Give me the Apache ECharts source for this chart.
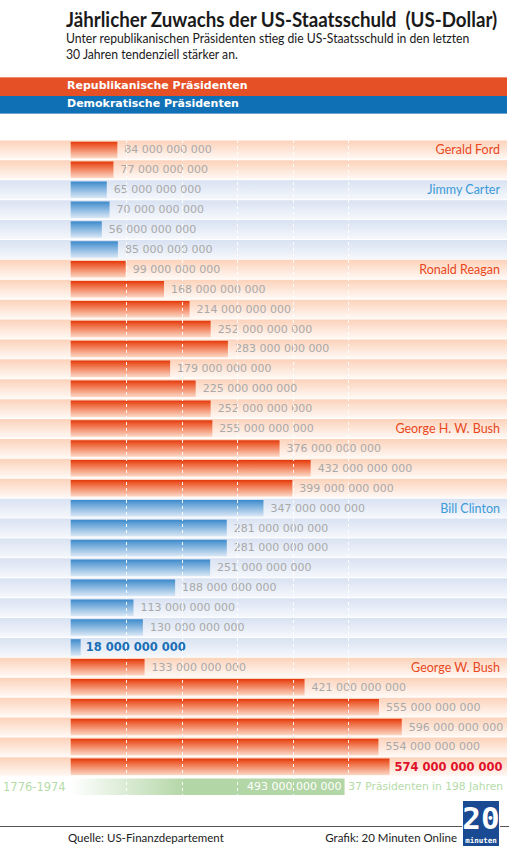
<!DOCTYPE html>
<html><head><meta charset="utf-8">
<script src="https://cdn.jsdelivr.net/npm/echarts@6/dist/echarts.min.js"></script>
<style>html,body{margin:0;padding:0;background:#fff}#c{width:509px;height:850px}</style>
</head><body><div id="c"></div>
<script>
// ---- data ----
const years = ['1975','76','77','78','79','80','81','82','83','84','85','86','87','88','89','90','91','92','93','94','95','96','97','98','99','2000','01','02','03','04','05','06','1776-1974'];
const growthBn = [84,77,65,70,56,85,99,168,214,252,283,179,225,252,255,376,432,399,347,281,281,251,188,113,130,18,133,421,555,596,554,574,493];
const party = ['R','R','D','D','D','D','R','R','R','R','R','R','R','R','R','R','R','R','D','D','D','D','D','D','D','D','R','R','R','R','R','R','H'];
const rowNotes = ['Gerald Ford','','Jimmy Carter','','','','Ronald Reagan','','','','','','','','George H. W. Bush','','','','Bill Clinton','','','','','','','','George W. Bush','','','','','','37 Präsidenten in 198 Jahren'];
const gridTicks = [100,200,300,400,500];
const titleText = 'Jährlicher Zuwachs der US-Staatsschuld  (US-Dollar)';
const subLines = ['Unter republikanischen Präsidenten stieg die US-Staatsschuld in den letzten', '30 Jahren tendenziell stärker an.'];

const LG = echarts.graphic.LinearGradient;
const C = {
  R: {band:['#fcd2ba','#fff9f5'], bar:[['0','#e1370c'],['0.18','#ec5a2c'],['1','#fcd8c6']], note:'#e8481c'},
  D: {band:['#d9e2f2','#f5f8fc'], bar:[['0','#3a88ca'],['0.18','#5a9cd4'],['1','#d9e7f5']], note:'#3b9ad7'},
  H: {note:'#b5dba8'}
};
const fmt = v => v + ' 000 000 000';
const humanist = "Lato, 'Open Sans', sans-serif";
const vera = "'DejaVu Sans', Verdana, sans-serif";

// horizontal condensing so the Lato text takes the width of the original condensed face
const ctx = document.createElement('canvas').getContext('2d');
function fitScale(text, font, target){ ctx.font = font; return target / ctx.measureText(text).width; }
const titleFont = "bold 20px Lato, 'Open Sans', sans-serif";
const subFont = "12.5px Lato, 'Open Sans', sans-serif";
const sTitle = fitScale(titleText, titleFont, 432);
const sSub = fitScale(subLines[0], subFont, 404);

const bandData = years.map((y,i)=>{
  const p = party[i];
  return {
    value: 1,
    itemStyle: p==='H' ? {color:'rgba(0,0,0,0)'} : {color: new LG(0,0,0,1,[{offset:0,color:C[p].band[0]},{offset:1,color:C[p].band[1]}])}
  };
});
const noteData = years.map((y,i)=>{
  const p = party[i];
  return {
    value: 1,
    label: p==='H' ? {color: C[p].note, fontFamily: vera, fontSize: 10.7, distance: 4} : {color: C[p].note}
  };
});
const barData = growthBn.map((v,i)=>{
  const p = party[i];
  const d = {value: v};
  if (p==='H') {
    d.itemStyle = {color: new LG(0,0,1,0,[{offset:0,color:'rgba(179,214,166,0)'},{offset:0.42,color:'#b3d6a6'},{offset:1,color:'#b3d6a6'}])};
    d.label = {position:'insideRight', distance:3, color:'#ffffff'};
  } else {
    d.itemStyle = {color: new LG(0,0,0,1, C[p].bar.map(s=>({offset:+s[0],color:s[1]})))};
  }
  return d;
});
// emphasised labels
barData[25].label = {color:'#1a6fb5', fontWeight:'bold', fontSize:11.5, distance:5};
barData[31].label = {color:'#e0102a', fontWeight:'bold', fontSize:11.5, distance:5};

const gridTop = 140, rowH = 19.9, nRows = years.length;
const chart = echarts.init(document.getElementById('c'), null, {renderer:'svg'});
chart.setOption({
  animation:false,
  backgroundColor:'#fff',
  title:[
    {text:'Quelle: US-Finanzdepartement', left:68, top:831, padding:0, textStyle:{fontFamily:humanist, fontSize:11.5, fontWeight:'normal', color:'#222'}},
    {text:'Grafik: 20 Minuten Online', right:52, top:831, padding:0, textStyle:{fontFamily:humanist, fontSize:11.5, fontWeight:'normal', color:'#222'}}
  ],
  grid:[
    {left:0, right:2, top:gridTop, height:rowH*nRows},
    {left:68, right:5, top:gridTop, height:rowH*nRows}
  ],
  xAxis:[
    {gridIndex:0, type:'value', min:0, max:1, show:false},
    {gridIndex:1, type:'value', min:0, max:780, show:false}
  ],
  yAxis:[
    {gridIndex:0, type:'category', data:years, inverse:true, show:false},
    {gridIndex:1, type:'category', data:years, inverse:true,
     axisLine:{show:false}, axisTick:{show:false}, splitLine:{show:false},
     axisLabel:{margin:5, fontFamily:vera, fontSize:11.5, color:(v)=> v==='1776-1974' ? '#b5dba8' : '#1a1a1a'}}
  ],
  series:[
    {type:'bar', xAxisIndex:0, yAxisIndex:0, data:bandData, barWidth:19, silent:true, z:1, barGap:'-100%'},
    {type:'bar', xAxisIndex:1, yAxisIndex:1, data:barData, barWidth:16.5, silent:true, z:3,
     label:{show:true, position:'right', distance:7, fontFamily:vera, fontSize:11, color:'#a9a9a9',
            formatter:(p)=>fmt(p.value)},
     markLine:{silent:true, symbol:['none','none'], label:{show:false}, z:5,
               lineStyle:{color:'#ffffff', type:[3,3], width:1, opacity:0.95},
               data: gridTicks.map(v=>({xAxis:v}))}},
    {type:'bar', xAxisIndex:0, yAxisIndex:0, data:noteData, barWidth:19, silent:true, z:6, barGap:'-100%',
     itemStyle:{color:'rgba(0,0,0,0)'},
     label:{show:true, position:'insideRight', distance:7, fontFamily:humanist, fontSize:12.5,
            formatter:(p)=>rowNotes[p.dataIndex]}}
  ],
  graphic:[
    {type:'text', x:66, y:19, scaleX:sTitle, style:{text:titleText, fill:'#1a1a1a', font:titleFont, verticalAlign:'middle'}},
    {type:'text', x:66, y:38, scaleX:sSub, style:{text:subLines[0], fill:'#1a1a1a', font:subFont, verticalAlign:'middle'}},
    {type:'text', x:66, y:54, scaleX:sSub, style:{text:subLines[1], fill:'#1a1a1a', font:subFont, verticalAlign:'middle'}},
    {type:'rect', left:0, top:77, shape:{width:507, height:19}, style:{fill:'#e55026'}},
    {type:'rect', left:0, top:96, shape:{width:507, height:18}, style:{fill:'#1070b5'}},
    {type:'line', shape:{x1:0,y1:77.5,x2:507,y2:77.5}, style:{stroke:'#f08a68', lineWidth:1}},
    {type:'line', shape:{x1:0,y1:113.5,x2:507,y2:113.5}, style:{stroke:'#6aa3d3', lineWidth:1}},
    {type:'text', left:67, top:80, style:{text:'Republikanische Präsidenten', fill:'#fff', font:"bold 11px 'DejaVu Sans', Verdana, sans-serif"}},
    {type:'text', left:67, top:98, style:{text:'Demokratische Präsidenten', fill:'#fff', font:"bold 11px 'DejaVu Sans', Verdana, sans-serif"}},
    {type:'line', shape:{x1:0,y1:826.5,x2:509,y2:826.5}, style:{stroke:'#555', lineWidth:1}},
    {type:'group', left:462, top:800, children:[
      {type:'rect', shape:{x:0,y:0,width:37,height:46}, style:{fill:'#1a4b92', stroke:'#fff', lineWidth:1}},
      {type:'text', x:18.5, y:2, style:{text:'20', fill:'#fff', font:"bold 31px 'DejaVu Sans Mono', monospace", align:'center', verticalAlign:'top'}},
      {type:'text', x:18.5, y:36, style:{text:'minuten', fill:'#fff', font:"bold 7.5px 'DejaVu Sans Mono', monospace", align:'center', verticalAlign:'top'}}
    ]}
  ]
});
</script></body></html>
